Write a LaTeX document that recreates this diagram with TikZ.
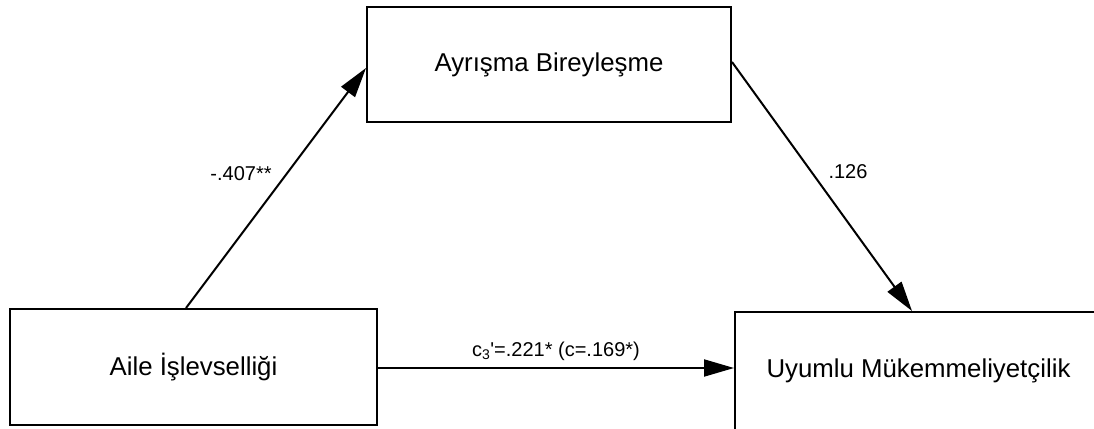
\documentclass[tikz,border=0pt]{standalone}
\usepackage{fontspec}
\setmainfont{Liberation Sans}
\usetikzlibrary{arrows.meta}
\begin{document}
\begin{tikzpicture}[x=1pt,y=-1pt,
  varbox/.style={draw=black, line width=2pt, fill=white, inner sep=0pt, rectangle,
    font=\fontsize{25.8}{30}\selectfont},
  pathline/.style={line width=2pt, -{Triangle[length=30pt,width=17pt]}},
  coef/.style={inner sep=0pt, font=\fontsize{20}{24}\selectfont}]
\path[use as bounding box, clip] (0,0) rectangle (1094,428);
\fill[white] (0,0) rectangle (1094,428);
\node[varbox, minimum width=367pt, minimum height=116pt] (A) at (193.5,367) {Aile İşlevselliği};
\node[varbox, minimum width=364pt, minimum height=115pt] (B) at (549,64.5) {Ayrışma Bireyleşme};
\node[varbox, minimum width=367pt, minimum height=118pt] (C) at (918.5,371) {Uyumlu Mükemmeliyetçilik};
\draw[pathline] ([xshift=177pt]A.north west) -- ([yshift=-3.5pt]B.west);
\draw[pathline] ([yshift=2.5pt]B.east) -- ([xshift=178pt]C.north west);
\draw[pathline] ([yshift=-1pt]A.east) -- ([yshift=-1pt]A.east -| C.west);
\node[coef] (l1) at (241,174) {-.407**};
\node[coef] (l2) at (848,172) {.126};
\node[coef] (l3) at (556,351) {c\textsubscript{3}\textquotesingle=.221* (c=.169*)};
\end{tikzpicture}
\end{document}
